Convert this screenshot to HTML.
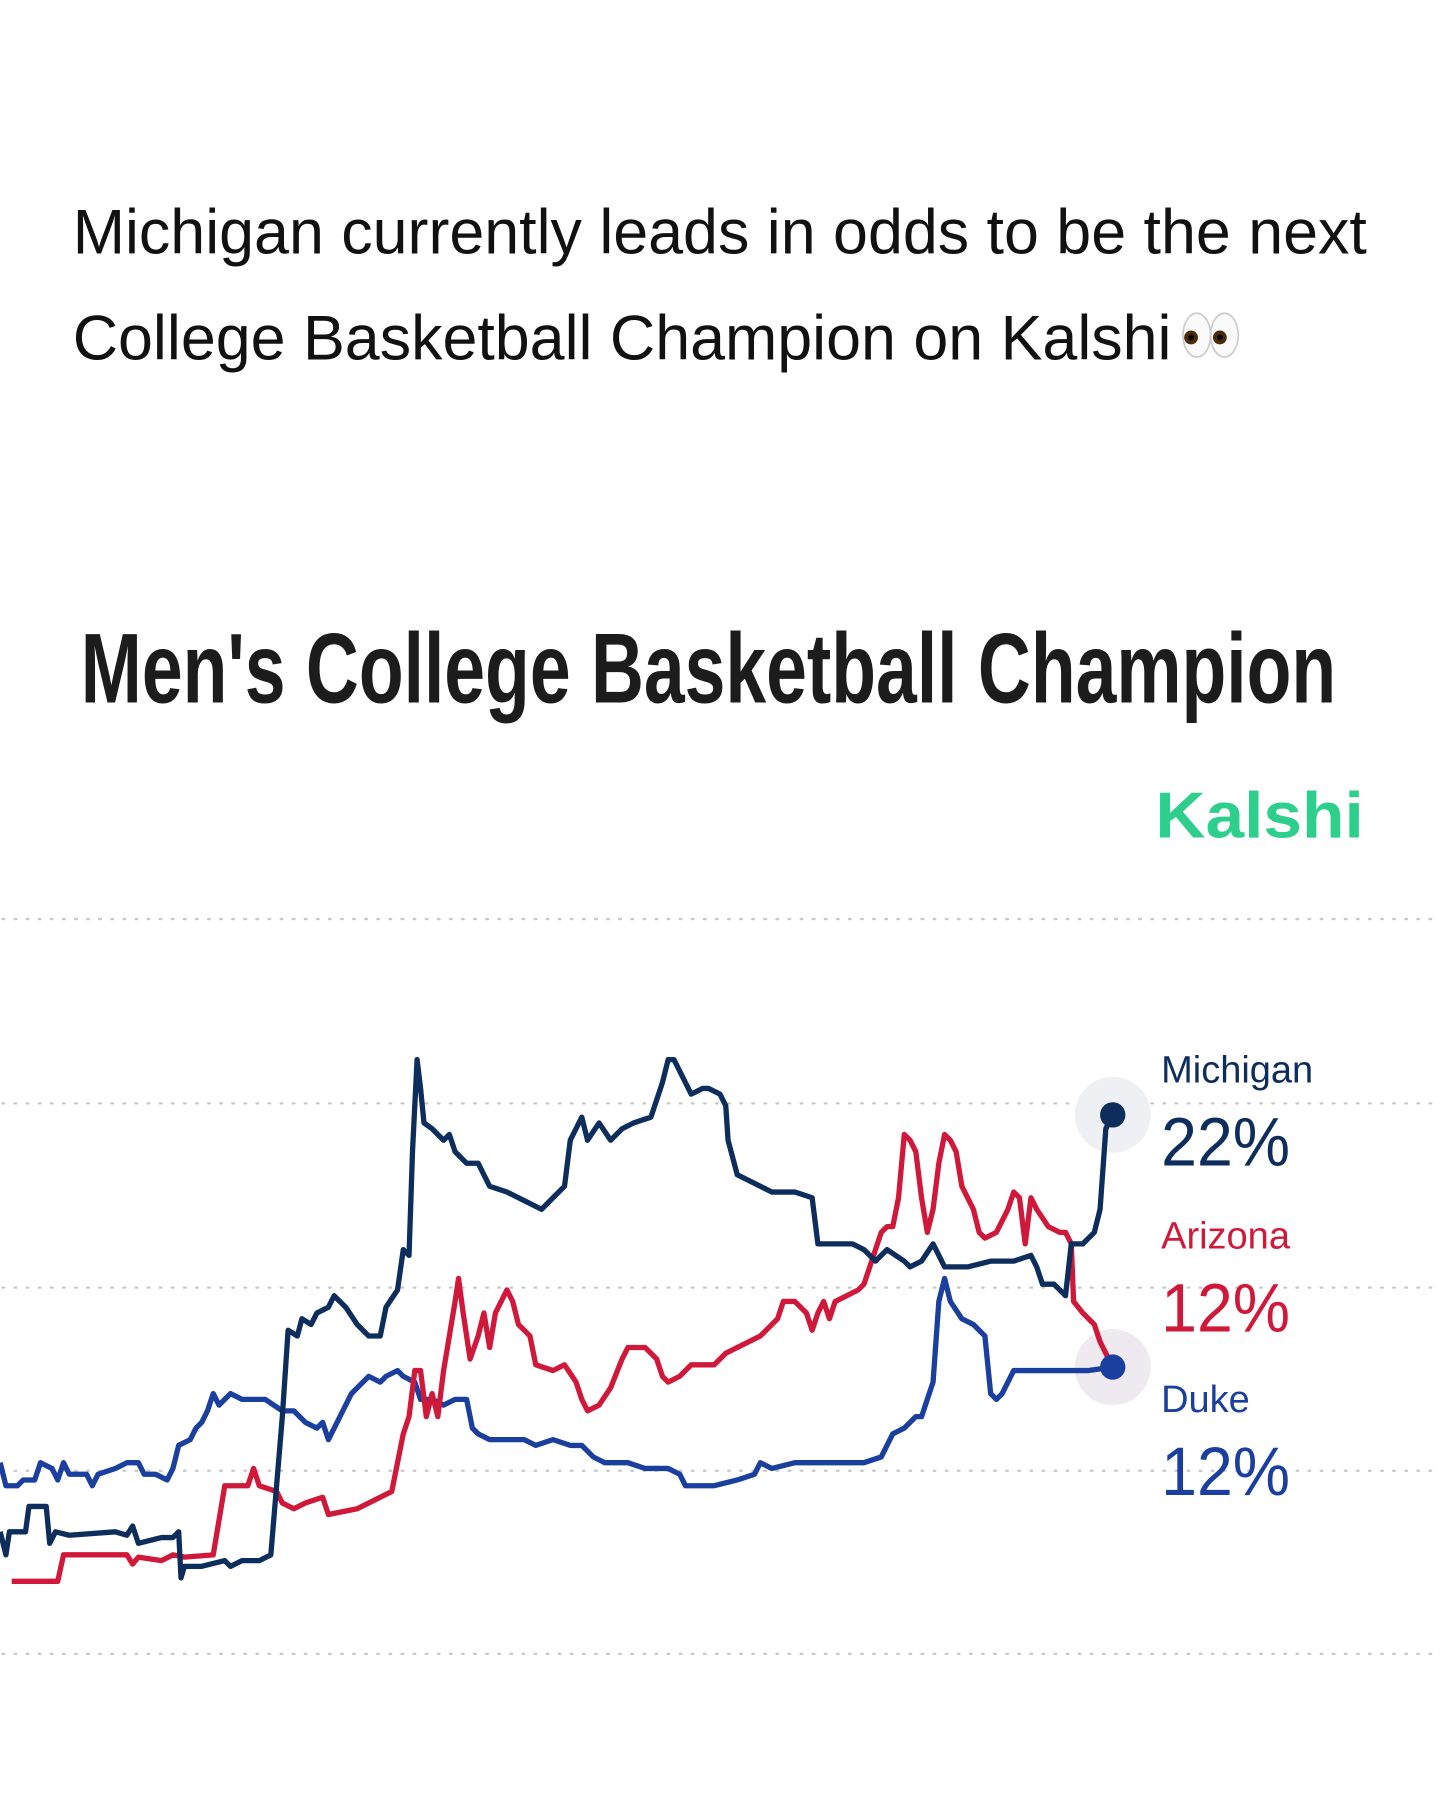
<!DOCTYPE html>
<html><head><meta charset="utf-8"><style>html,body{margin:0;padding:0;background:#fff}svg{display:block}</style></head><body>
<svg width="1440" height="1799" viewBox="0 0 1250 1562" xmlns="http://www.w3.org/2000/svg" font-family="Liberation Sans, sans-serif">
<rect width="1250" height="1562" fill="#fff"/>
<text x="63" y="220" font-size="54.5" fill="#111">Michigan currently leads in odds to be the next</text>
<text x="63" y="312" font-size="54.5" fill="#111">College Basketball Champion on Kalshi</text>
<g>
<ellipse cx="1039" cy="291" rx="12" ry="19" fill="#fafafa" stroke="#ccc" stroke-width="1.5"/>
<ellipse cx="1063" cy="291" rx="12" ry="19" fill="#fafafa" stroke="#ccc" stroke-width="1.5"/>
<circle cx="1034" cy="293" r="6" fill="#4a2a08"/><circle cx="1034" cy="293" r="2.5" fill="#000"/>
<circle cx="1059" cy="293" r="6" fill="#4a2a08"/><circle cx="1059" cy="293" r="2.5" fill="#000"/>
</g>
<text x="70" y="610" font-size="86" font-weight="bold" fill="#1c1c1c" textLength="1090" lengthAdjust="spacingAndGlyphs">Men's College Basketball Champion</text>
<text x="1003" y="727" font-size="56" font-weight="bold" fill="#2ecf8d" textLength="181" lengthAdjust="spacingAndGlyphs">Kalshi</text>
<g stroke="#c8c8c8" stroke-width="2" stroke-dasharray="1.5 9" stroke-linecap="round">
<line x1="2" y1="798" x2="1250" y2="798"/><line x1="2" y1="958" x2="1250" y2="958"/><line x1="2" y1="1118" x2="1250" y2="1118"/><line x1="2" y1="1277" x2="1250" y2="1277"/><line x1="2" y1="1436" x2="1250" y2="1436"/>
</g>
<circle cx="966" cy="968" r="33" fill="#eef0f4"/>
<circle cx="966" cy="1187" r="33" fill="#eeeaf0"/>
<g fill="none" stroke-width="4.6" stroke-linejoin="round">
<polyline stroke="#1a3f9e" points="0,1270 5,1290 15,1290 20,1285 30,1285 35,1270 45,1275 50,1285 55,1270 60,1280 75,1280 80,1290 85,1280 100,1275 110,1270 120,1270 125,1280 135,1280 145,1285 150,1275 155,1255 165,1250 170,1240 175,1235 180,1225 185,1210 190,1220 200,1210 210,1215 230,1215 245,1225 255,1225 265,1235 275,1240 280,1235 285,1250 290,1240 295,1230 300,1220 305,1210 310,1205 315,1200 320,1195 330,1200 335,1195 345,1190 350,1195 360,1200 365,1215 375,1215 385,1220 395,1215 405,1215 410,1240 415,1245 425,1250 440,1250 455,1250 465,1255 480,1250 495,1255 505,1255 515,1265 525,1270 545,1270 560,1275 580,1275 590,1280 595,1290 605,1290 620,1290 640,1285 655,1280 660,1270 670,1275 690,1270 720,1270 750,1270 765,1265 770,1255 775,1245 785,1240 795,1230 800,1230 805,1215 810,1200 815,1130 820,1110 825,1130 835,1145 845,1150 855,1160 860,1210 865,1215 870,1210 875,1200 880,1190 920,1190 945,1190 966,1187"/>
<polyline stroke="#d0193a" points="10,1373 50,1373 55,1350 110,1350 115,1358 120,1352 140,1355 150,1350 160,1352 185,1350 190,1320 195,1290 215,1290 220,1275 225,1290 240,1295 245,1305 255,1310 265,1305 280,1300 285,1315 310,1310 320,1305 330,1300 340,1295 345,1270 350,1245 355,1230 360,1190 365,1190 370,1230 375,1210 380,1230 385,1190 390,1160 395,1130 398,1110 402,1140 408,1180 415,1160 420,1140 425,1170 430,1140 435,1130 440,1120 445,1130 450,1150 460,1160 465,1185 480,1190 490,1185 500,1200 505,1215 510,1225 520,1220 530,1205 540,1180 545,1170 560,1170 570,1180 575,1195 580,1200 590,1195 600,1185 620,1185 630,1175 640,1170 660,1160 675,1145 680,1130 690,1130 700,1140 705,1155 710,1140 715,1130 720,1145 725,1130 735,1125 745,1120 750,1115 755,1100 760,1085 765,1070 770,1065 775,1065 780,1040 785,985 790,990 795,1000 800,1040 805,1070 810,1050 815,1010 820,985 825,990 830,1000 835,1030 845,1050 850,1070 855,1075 865,1070 875,1050 880,1035 885,1040 890,1080 895,1040 900,1050 910,1065 920,1070 925,1070 930,1080 932,1130 940,1140 950,1150 955,1165 960,1175 966,1187"/>
<polyline stroke="#0d2e5c" points="0,1330 5,1350 8,1330 22,1330 25,1308 40,1308 43,1340 48,1330 60,1333 100,1330 110,1333 115,1325 120,1340 140,1335 150,1335 155,1330 157,1370 160,1360 175,1360 195,1355 200,1360 210,1355 225,1355 235,1350 240,1290 245,1230 250,1155 258,1160 262,1145 270,1150 275,1140 285,1135 290,1125 300,1135 310,1150 320,1160 330,1160 335,1135 345,1120 350,1085 355,1090 358,1000 362,920 365,945 368,975 375,980 385,990 390,985 395,1000 405,1010 415,1010 425,1030 440,1035 450,1040 460,1045 470,1050 480,1040 490,1030 495,990 500,980 505,970 510,990 520,975 530,990 540,980 550,975 565,970 575,940 580,920 585,920 595,940 600,950 610,945 615,945 625,950 630,960 632,990 640,1020 650,1025 660,1030 670,1035 690,1035 705,1040 710,1080 720,1080 740,1080 750,1085 760,1095 770,1085 785,1095 790,1100 800,1095 810,1080 820,1100 840,1100 860,1095 880,1095 895,1090 900,1100 905,1115 915,1115 925,1125 930,1080 940,1080 950,1070 955,1050 960,980 966,968"/>
</g>
<circle cx="966" cy="968" r="11" fill="#0d2e5c"/>
<circle cx="966" cy="1187" r="11" fill="#1a3f9e"/>
<text x="1008" y="940" font-size="33" fill="#0d2e5c">Michigan</text>
<text x="1008" y="1012" font-size="60" fill="#0d2e5c" textLength="112" lengthAdjust="spacingAndGlyphs">22%</text>
<text x="1008" y="1084" font-size="33" fill="#d0193a">Arizona</text>
<text x="1008" y="1156" font-size="60" fill="#d0193a" textLength="112" lengthAdjust="spacingAndGlyphs">12%</text>
<text x="1008" y="1226" font-size="33" fill="#1a3f9e">Duke</text>
<text x="1008" y="1298" font-size="60" fill="#1a3f9e" textLength="112" lengthAdjust="spacingAndGlyphs">12%</text>
</svg>
</body></html>
